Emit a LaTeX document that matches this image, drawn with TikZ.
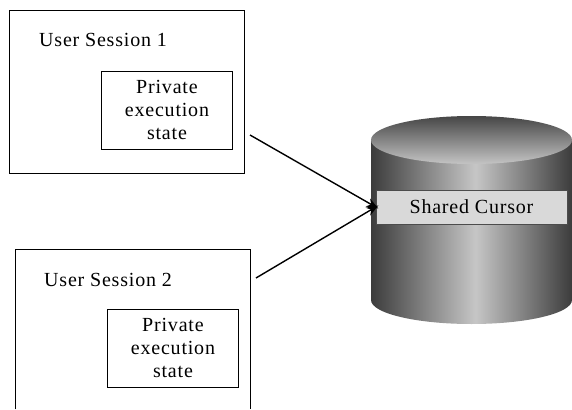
\documentclass[tikz,border=0pt]{standalone}
\usepackage{fontspec}
\setmainfont{Liberation Serif}[LetterSpace=4]
\usetikzlibrary{arrows.meta}
\definecolor{cylA}{HTML}{3C3C3C}
\definecolor{cylC}{HTML}{C6C6C6}
\definecolor{topA}{HTML}{464646}
\definecolor{topB}{HTML}{C4C4C4}
\definecolor{cursorfill}{HTML}{D9D9D9}
\pgfdeclarehorizontalshading{cylside}{100bp}{color(0bp)=(cylA); color(25bp)=(cylA); color(51bp)=(cylC); color(75bp)=(cylA); color(100bp)=(cylA)}
\begin{document}
\begin{tikzpicture}[x=1pt,y=-1pt,
  txt/.style={font=\fontsize{20}{23}\selectfont},
  outerbox/.style={draw=black, line width=0.9pt, anchor=north west, inner sep=0pt},
  innerbox/.style={draw=black, line width=0.9pt, anchor=north west, minimum width=131pt, minimum height=78pt, inner sep=0pt, align=center, txt},
  cursorbox/.style={draw=black!70, line width=0.6pt, fill=cursorfill, minimum width=191pt, minimum height=34pt, inner sep=0pt, txt},
  arr/.style={line width=1.4pt, -{Stealth[length=12pt,width=9pt]}}
]
\useasboundingbox (0,0) rectangle (572,409);
% session 1
\node[outerbox, minimum width=235pt, minimum height=163pt] (box1) at (9,10) {};
\node[txt, anchor=base west, inner sep=0pt] (lab1) at (39,47) {User Session 1};
\node[innerbox] (priv1) at (101,71) {Private\\execution\\state};
% session 2
\node[anchor=north west, inner sep=0pt, minimum width=235pt, minimum height=160pt] (box2) at (15,249) {};
\draw[line width=0.9pt] (box2.south west) -- (box2.north west) -- (box2.north east) -- (box2.south east);
\node[txt, anchor=base west, inner sep=0pt] (lab2) at (44,286) {User Session 2};
\node[innerbox] (priv2) at (107,309) {Private\\execution\\state};
% cylinder
\path[shading=cylside] (371,140) -- (371,300) arc[start angle=180, end angle=0, x radius=100.5, y radius=24] -- (572,140) -- cycle;
\path[top color=topA, bottom color=topB] (471.5,140) ellipse[x radius=100.5, y radius=24];
\node[cursorbox] (cursor) at (471.5,207) {\raisebox{-2pt}{Shared Cursor}};
% connectors
\coordinate (s1) at (250,135);
\coordinate (s2) at (256,278);
\draw[arr, shorten >=-3pt] (s1) -- (cursor.west);
\draw[arr, shorten >=-3pt] (s2) -- (cursor.west);
\end{tikzpicture}
\end{document}
